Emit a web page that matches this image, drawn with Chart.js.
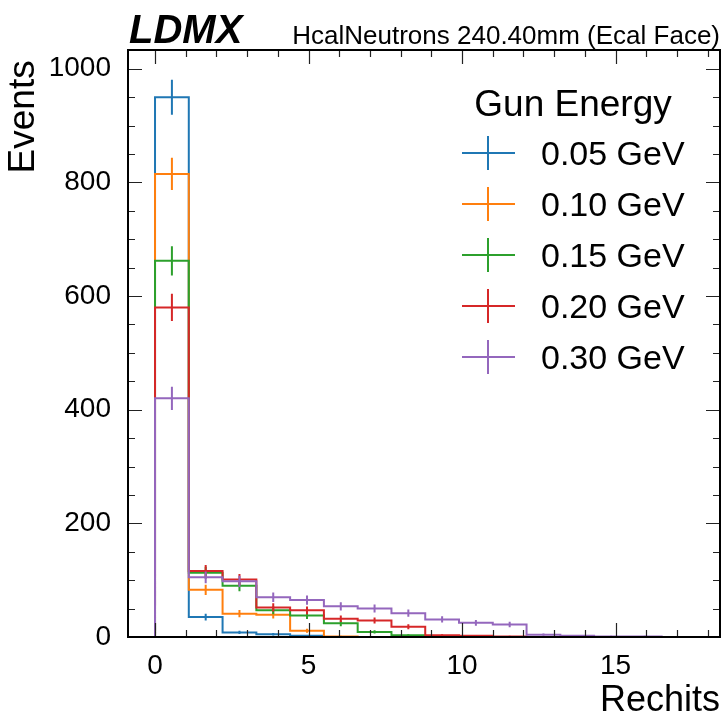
<!DOCTYPE html>
<html>
<head>
<meta charset="utf-8">
<script src="https://cdn.jsdelivr.net/npm/chart.js@4.4.0/dist/chart.umd.min.js"></script>
<style>
  html, body { margin: 0; padding: 0; background: #fff; }
  canvas { display: block; }
</style>
</head>
<body>
<canvas id="chart" width="723" height="716"></canvas>
<script>
// histogram bins are 1.1 rechits wide, starting at 0
const binWidth = 1.1;
const seriesLabels = ['0.05 GeV', '0.10 GeV', '0.15 GeV', '0.20 GeV', '0.30 GeV'];
const seriesColors = ['#1f77b4', '#ff7f0e', '#2ca02c', '#d62728', '#9467bd'];

// events per bin
const counts005 = [950, 35, 8, 5, 2];
const counts010 = [815, 83, 41, 39, 11, 1, 0];
const counts015 = [662, 113, 90, 47, 38, 24, 9, 3];
const counts020 = [580, 116, 101, 52, 47, 32, 29, 18, 3, 2, 1];
const counts030 = [420, 105, 98, 70, 65, 54, 50, 42, 31, 25, 22, 4, 2, 1, 1];
const allCounts = [counts005, counts010, counts015, counts020, counts030];

const xTicks = [0, 5, 10, 15];
const yTicks = [0, 200, 400, 600, 800, 1000];

const FONT = '"Liberation Sans", Arial, sans-serif';

function stepPoints(counts) {
    const pts = [{ x: 0, y: 0 }];
    counts.forEach((c, i) => pts.push({ x: i * binWidth, y: c }));
    pts.push({ x: counts.length * binWidth, y: 0 });
    return pts;
}

// vertical sqrt(N) error bars at the bin centres, broken apart with nulls
function errorPoints(counts) {
    const pts = [];
    counts.forEach((c, i) => {
        const xc = (i + 0.5) * binWidth;
        const e = Math.sqrt(c);
        pts.push({ x: xc, y: c - e }, { x: xc, y: c + e }, { x: xc, y: null });
    });
    return pts;
}

const datasets = [];
allCounts.forEach((counts, i) => {
    datasets.push({
        label: seriesLabels[i],
        data: stepPoints(counts),
        stepped: 'before',
        borderColor: seriesColors[i],
        borderWidth: 2,
        pointRadius: 0,
        fill: false,
        order: (4 - i) * 2 + 1
    });
    datasets.push({
        label: seriesLabels[i] + ' err',
        data: errorPoints(counts),
        borderColor: seriesColors[i],
        borderWidth: 2,
        pointRadius: 0,
        fill: false,
        spanGaps: false,
        order: (4 - i) * 2
    });
});

// inward ticks on all four sides plus the black frame
const framePlugin = {
    id: 'frame',
    afterDatasetsDraw(chart) {
        const { ctx, chartArea: a, scales: { x, y } } = chart;
        ctx.save();
        ctx.strokeStyle = '#222';
        ctx.lineWidth = 1.2;
        ctx.beginPath();
        for (let v = 0; v <= 18; v++) {
            const px = Math.round(x.getPixelForValue(v)) + 0.5;
            const len = v % 5 === 0 ? 14 : 7;
            ctx.moveTo(px, a.bottom); ctx.lineTo(px, a.bottom - len);
            ctx.moveTo(px, a.top); ctx.lineTo(px, a.top + len);
        }
        for (let v = 0; v <= 1000; v += 50) {
            const py = Math.round(y.getPixelForValue(v)) + 0.5;
            const len = v % 200 === 0 ? 14 : 7;
            ctx.moveTo(a.left, py); ctx.lineTo(a.left + len, py);
            ctx.moveTo(a.right, py); ctx.lineTo(a.right - len, py);
        }
        ctx.stroke();
        ctx.strokeStyle = '#000';
        ctx.lineWidth = 2;
        ctx.strokeRect(a.left, a.top, a.right - a.left, a.bottom - a.top);
        ctx.restore();
    }
};

const headerLegendPlugin = {
    id: 'headerLegend',
    afterDraw(chart) {
        const { ctx, chartArea: a } = chart;
        ctx.save();
        ctx.fillStyle = '#000';
        ctx.textBaseline = 'alphabetic';
        ctx.font = 'italic bold 40px ' + FONT;
        ctx.textAlign = 'left';
        ctx.fillText('LDMX', a.left + 1, 43);
        ctx.font = '26px ' + FONT;
        ctx.textAlign = 'right';
        ctx.fillText('HcalNeutrons 240.40mm (Ecal Face)', a.right, 44);

        ctx.font = '37px ' + FONT;
        ctx.textAlign = 'center';
        ctx.fillText('Gun Energy', 573, 116);
        ctx.font = '34px ' + FONT;
        ctx.textAlign = 'left';
        seriesLabels.forEach((lab, i) => {
            const base = 165 + 51 * i;
            const cy = base - 12;
            ctx.strokeStyle = seriesColors[i];
            ctx.lineWidth = 2;
            ctx.beginPath();
            ctx.moveTo(462, cy); ctx.lineTo(515, cy);
            ctx.moveTo(488, cy - 17); ctx.lineTo(488, cy + 17);
            ctx.stroke();
            ctx.fillText(lab, 541, base);
        });
        ctx.restore();
    }
};

new Chart(document.getElementById('chart'), {
    type: 'line',
    data: { datasets: datasets },
    options: {
        responsive: false,
        animation: false,
        devicePixelRatio: 1,
        layout: { padding: { top: 50, right: 3, bottom: 0, left: 0 } },
        plugins: { legend: { display: false }, tooltip: { enabled: false } },
        scales: {
            x: {
                type: 'linear',
                min: -0.88,
                max: 18.4,
                grid: { display: false },
                border: { display: false },
                afterBuildTicks: s => { s.ticks = xTicks.map(v => ({ value: v })); },
                afterFit: s => { s.height = 79; },
                ticks: { color: '#000', font: { family: FONT, size: 28 }, padding: 4, maxRotation: 0,
                         callback: v => String(v) },
                title: {
                    display: true, text: 'Rechits', align: 'end', color: '#000',
                    font: { family: FONT, size: 36, lineHeight: 1 }, padding: { top: 0, bottom: -3 }
                }
            },
            y: {
                type: 'linear',
                min: 0,
                max: 1033,
                grid: { display: false },
                border: { display: false },
                afterBuildTicks: s => { s.ticks = yTicks.map(v => ({ value: v })); },
                afterFit: s => { s.width = 128; },
                ticks: { color: '#000', font: { family: FONT, size: 28 }, padding: 9,
                         callback: v => String(v) },
                title: {
                    display: true, text: 'Events ', align: 'end', color: '#000',
                    font: { family: FONT, size: 37, lineHeight: 1 }, padding: { top: 5, bottom: 0 }
                }
            }
        }
    },
    plugins: [framePlugin, headerLegendPlugin]
});
</script>
</body>
</html>
